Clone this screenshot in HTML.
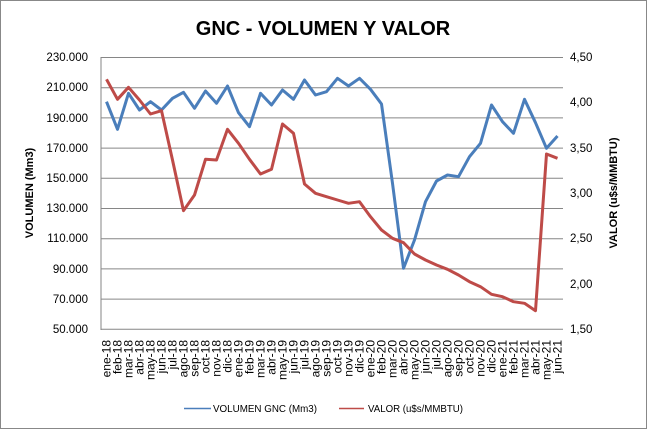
<!DOCTYPE html>
<html><head><meta charset="utf-8"><style>
html,body{margin:0;padding:0;background:#fff}
svg{display:block;font-family:"Liberation Sans",sans-serif}
</style></head><body>
<svg width="647" height="429" viewBox="0 0 647 429" xmlns="http://www.w3.org/2000/svg">
<rect x="0.5" y="0.5" width="646" height="428" fill="#fff" stroke="#888"/>
<text x="323" y="35" text-anchor="middle" font-size="20" font-weight="bold">GNC - VOLUMEN Y VALOR</text>
<g stroke="#868686" stroke-width="1">
<line x1="101" y1="57.5" x2="563" y2="57.5"/><line x1="101" y1="87.7" x2="563" y2="87.7"/><line x1="101" y1="117.9" x2="563" y2="117.9"/><line x1="101" y1="148.1" x2="563" y2="148.1"/><line x1="101" y1="178.3" x2="563" y2="178.3"/><line x1="101" y1="208.5" x2="563" y2="208.5"/><line x1="101" y1="238.7" x2="563" y2="238.7"/><line x1="101" y1="268.9" x2="563" y2="268.9"/><line x1="101" y1="299.1" x2="563" y2="299.1"/><line x1="101" y1="329.3" x2="563" y2="329.3"/>
<line x1="101" y1="57" x2="101" y2="330"/>
</g>
<g font-size="11.5" text-anchor="end">
<text x="88" y="61">230.000</text><text x="88" y="91">210.000</text><text x="88" y="122">190.000</text><text x="88" y="152">170.000</text><text x="88" y="182">150.000</text><text x="88" y="212">130.000</text><text x="88" y="242">110.000</text><text x="88" y="273">90.000</text><text x="88" y="303">70.000</text><text x="88" y="333">50.000</text>
</g>
<g font-size="11.5">
<text x="570" y="61">4,50</text><text x="570" y="106">4,00</text><text x="570" y="152">3,50</text><text x="570" y="197">3,00</text><text x="570" y="242">2,50</text><text x="570" y="288">2,00</text><text x="570" y="333">1,50</text>
</g>
<text transform="translate(33,193) rotate(-90)" text-anchor="middle" font-size="11" font-weight="bold">VOLUMEN (Mm3)</text>
<text transform="translate(617,193) rotate(-90)" text-anchor="middle" font-size="11" font-weight="bold">VALOR (u$s/MMBTU)</text>
<g font-size="12" text-anchor="end">
<text transform="translate(110.5,340) rotate(-90)">ene-18</text><text transform="translate(121.5,340) rotate(-90)">feb-18</text><text transform="translate(132.5,340) rotate(-90)">mar-18</text><text transform="translate(143.5,340) rotate(-90)">abr-18</text><text transform="translate(154.5,340) rotate(-90)">may-18</text><text transform="translate(165.5,340) rotate(-90)">jun-18</text><text transform="translate(176.5,340) rotate(-90)">jul-18</text><text transform="translate(187.5,340) rotate(-90)">ago-18</text><text transform="translate(198.5,340) rotate(-90)">sep-18</text><text transform="translate(209.5,340) rotate(-90)">oct-18</text><text transform="translate(220.5,340) rotate(-90)">nov-18</text><text transform="translate(231.5,340) rotate(-90)">dic-18</text>
<text transform="translate(242.5,340) rotate(-90)">ene-19</text><text transform="translate(253.5,340) rotate(-90)">feb-19</text><text transform="translate(264.5,340) rotate(-90)">mar-19</text><text transform="translate(275.5,340) rotate(-90)">abr-19</text><text transform="translate(286.5,340) rotate(-90)">may-19</text><text transform="translate(297.5,340) rotate(-90)">jun-19</text><text transform="translate(308.5,340) rotate(-90)">jul-19</text><text transform="translate(319.5,340) rotate(-90)">ago-19</text><text transform="translate(330.5,340) rotate(-90)">sep-19</text><text transform="translate(341.5,340) rotate(-90)">oct-19</text><text transform="translate(352.5,340) rotate(-90)">nov-19</text><text transform="translate(363.5,340) rotate(-90)">dic-19</text>
<text transform="translate(374.5,340) rotate(-90)">ene-20</text><text transform="translate(385.5,340) rotate(-90)">feb-20</text><text transform="translate(396.5,340) rotate(-90)">mar-20</text><text transform="translate(407.5,340) rotate(-90)">abr-20</text><text transform="translate(418.5,340) rotate(-90)">may-20</text><text transform="translate(429.5,340) rotate(-90)">jun-20</text><text transform="translate(440.5,340) rotate(-90)">jul-20</text><text transform="translate(451.5,340) rotate(-90)">ago-20</text><text transform="translate(462.5,340) rotate(-90)">sep-20</text><text transform="translate(473.5,340) rotate(-90)">oct-20</text><text transform="translate(484.5,340) rotate(-90)">nov-20</text><text transform="translate(495.5,340) rotate(-90)">dic-20</text>
<text transform="translate(506.5,340) rotate(-90)">ene-21</text><text transform="translate(517.5,340) rotate(-90)">feb-21</text><text transform="translate(528.5,340) rotate(-90)">mar-21</text><text transform="translate(539.5,340) rotate(-90)">abr-21</text><text transform="translate(550.5,340) rotate(-90)">may-21</text><text transform="translate(561.5,340) rotate(-90)">jun-21</text>
</g>
<polyline fill="none" stroke="#4a7ebb" stroke-width="3" stroke-linejoin="round" points="106.5,101.7 117.5,129.3 128.5,93.3 139.5,110 150.5,101.7 161.5,110 172.5,98.3 183.5,92.3 194.5,108.3 205.5,91 216.5,103.3 227.5,86 238.5,112.7 249.5,126.7 260.5,93.3 271.5,105 282.5,90 293.5,99.3 304.5,80 315.5,95 326.5,91.7 337.5,78.3 348.5,86 359.5,78.3 370.5,89.3 381.5,104 392.5,183.3 403.5,268.3 414.5,240 425.5,201.7 436.5,181 447.5,175 458.5,176.7 469.5,156.7 480.5,143.3 491.5,105 502.5,121.7 513.5,133.3 524.5,99.3 535.5,122.7 546.5,148.3 557.5,136"/>
<polyline fill="none" stroke="#be4b48" stroke-width="3" stroke-linejoin="round" points="106.5,79.3 117.5,99.3 128.5,87.3 139.5,100 150.5,114 161.5,110.7 172.5,160 183.5,210.7 194.5,195 205.5,159.3 216.5,160 227.5,129.3 238.5,143.3 249.5,159.3 260.5,174 271.5,169.3 282.5,124 293.5,133.3 304.5,184 315.5,193.3 326.5,196.7 337.5,200 348.5,203.3 359.5,201.7 370.5,216.7 381.5,230 392.5,238.3 403.5,242.7 414.5,254 425.5,260 436.5,265 447.5,269.3 458.5,275 469.5,281.7 480.5,286.7 491.5,294.3 502.5,296.7 513.5,301.7 524.5,303.3 535.5,310.7 546.5,154 557.5,158.3"/>
<line x1="184" y1="408.5" x2="211" y2="408.5" stroke="#4a7ebb" stroke-width="1.5"/>
<text x="213" y="412" font-size="10.5" textLength="104" lengthAdjust="spacingAndGlyphs">VOLUMEN GNC (Mm3)</text>
<line x1="339" y1="408.5" x2="364" y2="408.5" stroke="#be4b48" stroke-width="1.5"/>
<text x="368" y="412" font-size="10.5" textLength="95" lengthAdjust="spacingAndGlyphs">VALOR (u$s/MMBTU)</text>
</svg>
</body></html>
